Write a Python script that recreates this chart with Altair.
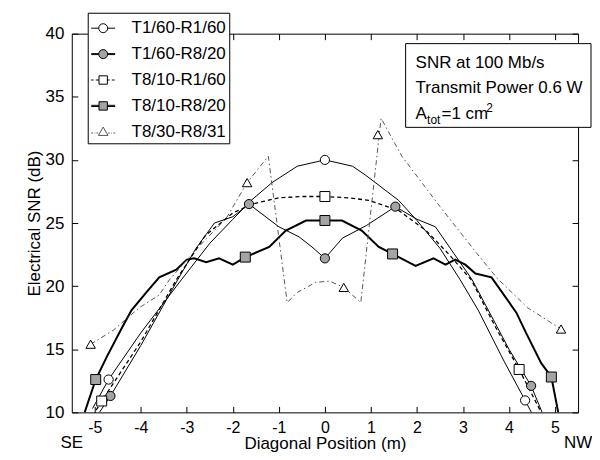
import altair as alt
import pandas as pd

FONT = "Liberation Sans"

# ---------------- data ----------------
series_names = ["T1/60-R1/60", "T1/60-R8/20", "T8/10-R1/60", "T8/10-R8/20", "T8/30-R8/31"]

# curves
c1_x = [-5.05, -4.7, -4.0, -3.12, -2.5, -2.0, -1.6, -1.15, -0.6, 0.0, 0.6, 0.88, 1.6, 2.0, 2.5, 2.94, 3.33, 3.9, 4.35, 4.5]
c1_y = [10.3, 12.6, 16.3, 20.5, 23.4, 25.3, 26.8, 28.2, 29.5, 30.0, 29.5, 28.8, 26.8, 25.2, 23.0, 20.5, 18.1, 14.0, 10.95, 9.9]

c2_x = [-4.9, -4.66, -4.0, -3.2, -2.8, -2.4, -2.0, -1.65, -1.0, -0.56, -0.28, 0.0, 0.38, 0.9, 1.53, 2.0, 2.4, 2.8, 3.2, 4.0, 4.48, 4.72]
c2_y = [10.0, 11.3, 15.3, 20.5, 23.0, 25.0, 25.5, 26.5, 24.7, 23.9, 23.1, 22.2, 23.8, 24.8, 26.3, 25.3, 24.7, 22.6, 20.5, 15.0, 12.1, 10.0]

c3_x = [-5.05, -4.85, -4.0, -3.23, -2.6, -2.0, -1.58, -1.0, -0.5, 0.0, 0.5, 0.95, 1.6, 2.2, 2.7, 3.18, 3.7, 4.22, 4.7]
c3_y = [9.7, 10.9, 15.6, 20.5, 24.0, 25.8, 26.5, 27.0, 27.1, 27.1, 27.0, 26.8, 26.0, 24.4, 22.5, 20.5, 16.8, 13.4, 10.0]

c4_x = [-5.22, -4.98, -4.74, -4.41, -4.2, -3.88, -3.6, -3.23, -3.0, -2.84, -2.58, -2.3, -2.0, -1.73, -1.21, -0.85, -0.41, 0.0,
        0.37, 0.8, 1.17, 1.47, 1.97, 2.36, 2.62, 2.83, 3.05, 3.27, 3.62, 4.16, 4.37, 4.7, 4.92, 5.07]
c4_y = [10.0, 12.6, 14.4, 16.7, 18.1, 19.5, 20.7, 21.3, 22.1, 22.2, 21.9, 22.2, 21.7, 22.3, 23.1, 24.4, 25.2, 25.2,
        25.2, 24.4, 23.1, 22.55, 21.6, 22.2, 21.7, 22.1, 21.7, 21.0, 20.7, 17.9, 16.3, 13.9, 12.8, 10.0]

c5_x = [-5.09, -4.6, -4.03, -3.6, -3.38, -2.8, -2.14, -1.69, -1.23, -0.82, -0.6, -0.2, 0.1, 0.41, 0.78, 1.22, 1.67, 2.5, 3.3, 3.75, 4.4, 5.13]
c5_y = [15.4, 16.5, 18.3, 19.3, 20.5, 22.9, 25.4, 28.2, 30.3, 18.7, 19.5, 20.3, 20.4, 19.9, 18.7, 33.3, 30.3, 26.3, 22.6, 20.6, 18.3, 16.6]

# markers
m1_x = [-4.70, 0.0, 4.35]
m1_y = [12.6, 30.0, 10.95]
m2_x = [-4.66, -1.65, 0.0, 1.53, 4.48]
m2_y = [11.3, 26.5, 22.2, 26.3, 12.1]
m3_x = [-4.85, 0.0, 4.22]
m3_y = [10.9, 27.1, 13.4]
m4_x = [-4.98, -1.73, 0.0, 1.47, 4.92]
m4_y = [12.6, 22.3, 25.2, 22.55, 12.8]
m5_x = [-5.09, -1.69, 0.41, 1.15, 5.13]
m5_y = [15.4, 28.2, 19.9, 32.0, 16.6]

x_ticks = [-5, -4, -3, -2, -1, 0, 1, 2, 3, 4, 5]
y_ticks = [10, 15, 20, 25, 30, 35, 40]
end_labels = ["SE", "NW"]
end_x = [-5.5, 5.5]
note_lines = ["SNR at 100 Mb/s", "Transmit Power 0.6 W"]

GREY = "#a4a4a4"
DASHGREY = "#555555"

# legend symbols (line segments + marker), unit = 12px
leg_paths = [
    "M-1,0H-0.375M0.375,0H1M0.375,0A0.375,0.375,0,1,1,-0.375,0A0.375,0.375,0,1,1,0.375,0Z",
    "M-1,-0.04H-0.375M-1,0.04H-0.375M0.375,-0.04H1M0.375,0.04H1M0.375,0A0.375,0.375,0,1,1,-0.375,0A0.375,0.375,0,1,1,0.375,0Z",
    "M-1,0H-0.8M-0.62,0H-0.35M0.35,0H0.55M0.72,0H0.95M-0.35,-0.35H0.35V0.35H-0.35Z",
    "M-1,-0.05H-0.35M-1,0.05H-0.35M0.35,-0.05H1M0.35,0.05H1M-0.35,-0.35H0.35V0.35H-0.35Z",
    "M-1,0.1H-0.85M-0.72,0.1H-0.66M-0.56,0.1H-0.42M0.42,0.1H0.56M0.66,0.1H0.72M0.85,0.1H1M0,-0.4L0.4,0.3L-0.4,0.3Z",
]
leg_fills = ["white", GREY, "white", GREY, "white"]
leg_strokes = ["black", "black", "black", "black", DASHGREY]

curves = [(c1_x, c1_y), (c2_x, c2_y), (c3_x, c3_y), (c4_x, c4_y), (c5_x, c5_y)]
marks = [(m1_x, m1_y), (m2_x, m2_y), (m3_x, m3_y), (m4_x, m4_y), (m5_x, m5_y)]
line_styles = [
    dict(strokeWidth=1.0, color="black"),
    dict(strokeWidth=1.0, color="black"),
    dict(strokeWidth=1.3, color="black", strokeDash=[4, 3]),
    dict(strokeWidth=2.0, color="black"),
    dict(strokeWidth=1.0, color=DASHGREY, strokeDash=[5, 3, 1.5, 3]),
]
marker_styles = [
    dict(shape="circle", fill="white", size=85),
    dict(shape="circle", fill=GREY, size=85),
    dict(shape="square", fill="white", size=100),
    dict(shape="square", fill=GREY, size=100),
    dict(shape="triangle-up", fill="white", size=90),
]

W, H = 508, 380
xscale = alt.Scale(domain=[-5.5, 5.5], nice=False, zero=False)
yscale = alt.Scale(domain=[10, 40], nice=False, zero=False)

lab = dict(labelFont=FONT, labelFontSize=17, labelColor="black")
ttl = dict(titleFont=FONT, titleFontSize=17, titleFontWeight="normal", titleColor="black")

ax_x_main = alt.Axis(values=x_ticks, ticks=False, domain=False, grid=False, labelPadding=7,
                     labelExpr="datum.value < 0 ? '-' + abs(datum.value) : datum.label",
                     title="Diagonal Position (m)", titleX=W / 2, titleY=36, titleAlign="center",
                     titleBaseline="alphabetic", labelFont=FONT, labelFontSize=16, labelColor="black", **ttl)
ax_y_main = alt.Axis(values=y_ticks, ticks=False, domain=False, grid=False, labelPadding=8,
                     title="Electrical SNR (dB)", titleX=-37, titleY=H / 2, titleAngle=270,
                     titleAlign="center", titleBaseline="middle", **lab, **ttl)
tick_common = dict(labels=False, domain=False, grid=False, ticks=True, tickSize=6, tickColor="black",
                   tickWidth=1, title=None)
ax_x_in_bottom = alt.Axis(orient="top", offset=-H, values=x_ticks, **tick_common)
ax_x_in_top = alt.Axis(orient="bottom", offset=-H, values=x_ticks, **tick_common)
ax_y_in_left = alt.Axis(orient="right", offset=-W, values=y_ticks, **tick_common)
ax_y_in_right = alt.Axis(orient="left", offset=-W, values=y_ticks, **tick_common)

x_axes = [ax_x_main, ax_x_in_bottom, ax_x_in_top]
y_axes = [ax_y_main, ax_y_in_left, ax_y_in_right]

layers = []
for i, ((cx, cy), st) in enumerate(zip(curves, line_styles)):
    df = pd.DataFrame({"x": cx, "y": cy, "i": range(len(cx))})
    xa = x_axes[i] if i < 3 else None
    ya = y_axes[i] if i < 3 else None
    layers.append(
        alt.Chart(df).mark_line(clip=True, **st).encode(
            x=alt.X("x:Q", scale=xscale, axis=xa),
            y=alt.Y("y:Q", scale=yscale, axis=ya),
            order="i:Q",
        )
    )

for (mx, my), st in zip(marks, marker_styles):
    df = pd.DataFrame({"x": mx, "y": my})
    layers.append(
        alt.Chart(df).mark_point(filled=True, stroke="black", strokeWidth=1, opacity=1, **st).encode(
            x=alt.X("x:Q", scale=xscale, axis=None),
            y=alt.Y("y:Q", scale=yscale, axis=None),
        )
    )

# legend-only layer (no visible marks)
leg_df = pd.DataFrame({"series": series_names, "v": [0] * 5})
legend_spec = alt.Legend(orient="none", legendX=16, legendY=-21, title=None, padding=3,
                         strokeColor="black", fillColor="white", labelFont=FONT, labelFontSize=17,
                         labelColor="black", labelOffset=16, rowPadding=5, symbolSize=576,
                         symbolStrokeWidth=1)
layers.append(
    alt.Chart(leg_df).mark_point(filled=False, strokeWidth=1, size=576, opacity=1)
    .encode(
        shape=alt.Shape("series:N", scale=alt.Scale(domain=series_names, range=leg_paths), legend=legend_spec),
        fill=alt.Fill("series:N", scale=alt.Scale(domain=series_names, range=leg_fills), legend=legend_spec),
        stroke=alt.Stroke("series:N", scale=alt.Scale(domain=series_names, range=leg_strokes), legend=legend_spec),
    )
    .transform_filter("datum.v > 1")
)

# SE / NW labels
end_df = pd.DataFrame({"t": end_labels, "x": end_x})
layers.append(
    alt.Chart(end_df).mark_text(font=FONT, fontSize=17, color="black", align="center", baseline="alphabetic")
    .encode(x=alt.X("x:Q", scale=xscale, axis=None), y=alt.value(416), text="t:N")
)

# annotation box
box_df = pd.DataFrame({"k": [0]})
layers.append(
    alt.Chart(box_df).mark_rect(fill="white", stroke="black", strokeWidth=1)
    .encode(x=alt.value(335), x2=alt.value(521), y=alt.value(10), y2=alt.value(94))
)
note_df = pd.DataFrame({"t": note_lines, "yy": [34, 60]})
layers.append(
    alt.Chart(note_df).mark_text(font=FONT, fontSize=17, color="black", align="left", baseline="alphabetic")
    .encode(x=alt.value(345), y=alt.Y("yy:Q", scale=None, axis=None), text="t:N")
)
parts_df = pd.DataFrame({"t": ["A", "tot", "=1 cm", "2"],
                         "xx": [345, 356.5, 371, 416],
                         "yy": [86, 91, 86, 79],
                         "fs": [17, 12, 17, 12]})
layers.append(
    alt.Chart(parts_df).mark_text(font=FONT, color="black", align="left", baseline="alphabetic")
    .encode(x=alt.X("xx:Q", scale=None, axis=None), y=alt.Y("yy:Q", scale=None, axis=None),
            text="t:N", size=alt.Size("fs:Q", scale=None, legend=None))
)

chart = (
    alt.layer(*layers)
    .resolve_axis(x="independent", y="independent")
    .properties(width=W, height=H, autosize=alt.AutoSizeParams(type="none"),
                padding={"left": 64, "top": 25, "right": 14, "bottom": 39})
    .configure_view(stroke="black", strokeWidth=1)
    .configure_axis(grid=False)
)

chart.save("out.html", embed_options={"renderer": "svg", "actions": False})
